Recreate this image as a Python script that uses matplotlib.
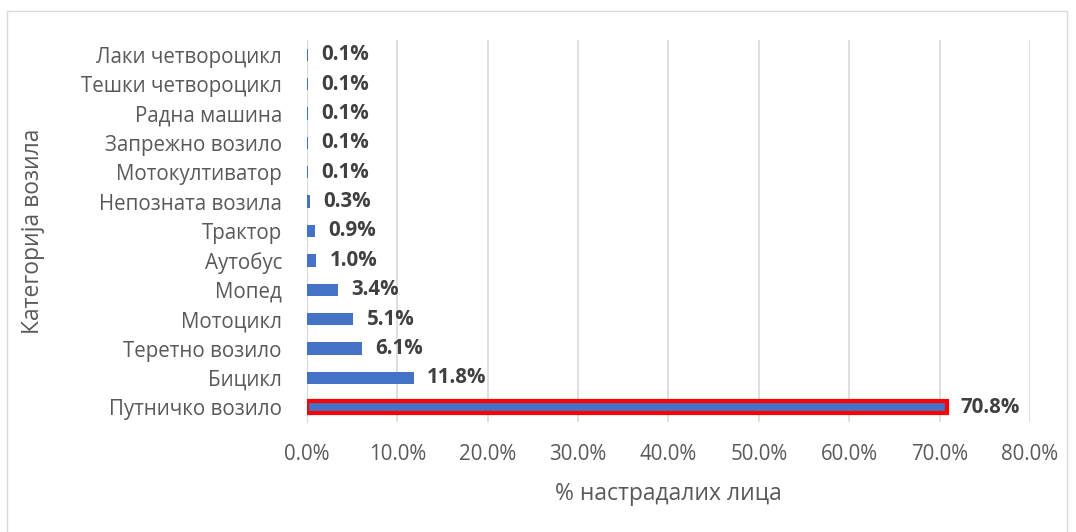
import matplotlib.pyplot as plt
import matplotlib.patches as mpatches
from matplotlib.ticker import FuncFormatter

# категорије (одоздо нагоре) и удео настрадалих лица у %
categories = ["Путничко возило", "Бицикл", "Теретно возило", "Мотоцикл", "Мопед",
              "Аутобус", "Трактор", "Непозната возила", "Мотокултиватор",
              "Запрежно возило", "Радна машина", "Тешки четвороцикл", "Лаки четвороцикл"]
values = [70.8, 11.8, 6.1, 5.1, 3.4, 1.0, 0.9, 0.3, 0.1, 0.1, 0.1, 0.1, 0.1]
x_ticks = [0, 10, 20, 30, 40, 50, 60, 70, 80]

plt.rcParams['font.family'] = ['Open Sans', 'DejaVu Sans']

fig = plt.figure(figsize=(10.76, 5.32), dpi=100)
ax = fig.add_axes([0.2853, 0.2068, 0.6719, 0.718])

ypos = range(len(categories))
bars = ax.barh(ypos, values, height=0.42, color='#4472c4', zorder=3)
# истакнута прва трака
bars[0].set_edgecolor('#ff0000')
bars[0].set_linewidth(3)

for y, v in zip(ypos, values):
    ax.text(v + 1.5, y, f"{v:.1f}%", va='center', ha='left', fontsize=14.8,
            fontweight='bold', color='#404040')

ax.set_xlim(0, 80)
ax.set_ylim(-0.5, len(categories) - 0.5)
ax.set_xticks(x_ticks)
ax.xaxis.set_major_formatter(FuncFormatter(lambda v, p: f"{v:.1f}%"))
ax.set_yticks(list(ypos))
ax.set_yticklabels(categories)
ax.tick_params(axis='both', length=0, labelsize=14.8, labelcolor='#595959')
ax.tick_params(axis='x', pad=16)
ax.tick_params(axis='y', pad=18)
ax.grid(axis='x', color='#d9d9d9', linewidth=1.2, zorder=0)
for s in ['top', 'right', 'bottom']:
    ax.spines[s].set_visible(False)
ax.spines['left'].set_color('#d9d9d9')

ax.set_xlabel("% настрадалих лица", fontsize=16.5, color='#595959', labelpad=12)
fig.text(0.031, 0.565, "Категорија возила", rotation=90, fontsize=16.5,
         color='#595959', ha='center', va='center')

# оквир графикона
fig.patches.append(mpatches.Rectangle((0.0065, -0.01), 0.985, 0.99, transform=fig.transFigure,
                                      fill=False, edgecolor='#d9d9d9', linewidth=1))

fig.savefig("out.png", dpi=100)
